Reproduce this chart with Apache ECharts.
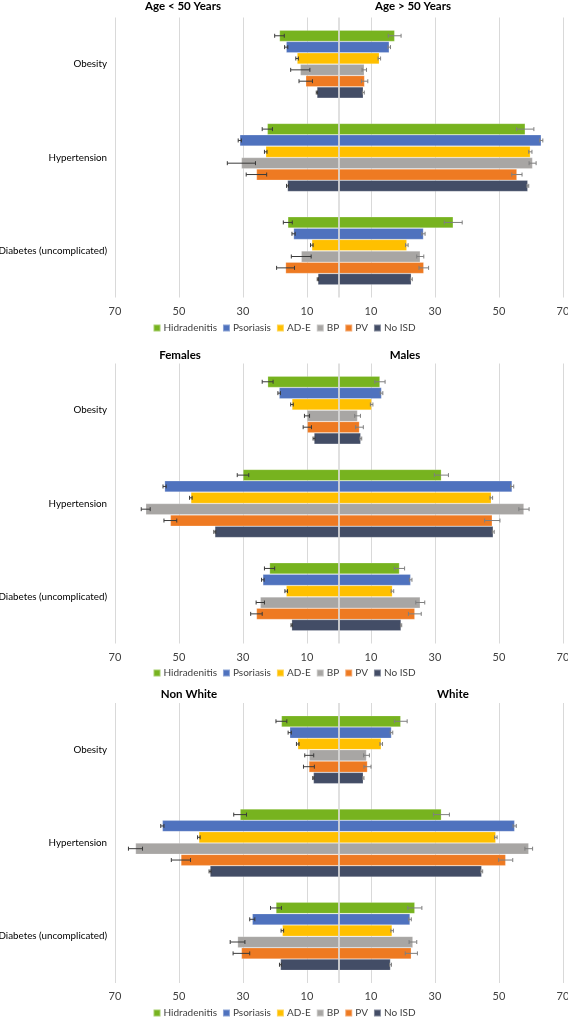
<!DOCTYPE html>
<html><head><meta charset="utf-8">
<script src="https://cdn.jsdelivr.net/npm/echarts@6/dist/echarts.min.js"></script>
<style>html,body{margin:0;padding:0;background:#fff}#c{width:568px;height:1018px}</style>
</head><body><div id="c"></div>
<script>
// ---------- DATA ----------
const categories = ['Obesity', 'Hypertension', 'Diabetes (uncomplicated)'];
const groups = ['Hidradenitis', 'Psoriasis', 'AD-E', 'BP', 'PV', 'No ISD'];
const panelTitles = [['Age < 50 Years', 'Age > 50 Years'], ['Females', 'Males'], ['Non White', 'White']];
const xTickLabels = [70, 50, 30, 10, 10, 30, 50, 70];

// rows = groups (Hidradenitis, Psoriasis, AD-E, BP, PV, No ISD); cols = categories
const ageUnder50 = [[18.6, 22.4, 16.0], [16.5, 31.0, 14.2], [13.1, 22.9, 8.5], [12.1, 30.5, 11.8], [10.4, 25.8, 16.7], [6.9, 16.1, 6.6]];
const ageUnder50Err = [[1.5, 1.6, 1.4], [0.5, 0.5, 0.5], [0.4, 0.4, 0.4], [3.0, 4.4, 3.1], [2.1, 3.2, 2.8], [0.2, 0.3, 0.2]];
const ageOver50 = [[17.4, 58.2, 35.7], [15.7, 63.2, 26.4], [12.6, 59.8, 21.2], [7.9, 60.5, 25.4], [8.0, 55.6, 26.5], [7.6, 59.0, 22.6]];
const ageOver50Err = [[2.0, 2.7, 2.8], [0.4, 0.5, 0.5], [0.4, 0.5, 0.4], [0.7, 1.1, 1.1], [1.0, 1.6, 1.5], [0.3, 0.3, 0.3]];

const females = [[22.3, 30.0, 21.7], [18.7, 54.5, 23.8], [14.7, 46.3, 16.5], [10.0, 60.4, 24.6], [9.9, 52.7, 25.8], [7.8, 38.8, 14.8]];
const femalesErr = [[1.7, 1.8, 1.6], [0.4, 0.5, 0.4], [0.4, 0.4, 0.4], [0.8, 1.4, 1.3], [1.3, 2.0, 1.8], [0.3, 0.3, 0.2]];
const males = [[12.8, 32.0, 18.9], [13.3, 54.1, 22.4], [10.2, 47.6, 16.7], [5.8, 57.8, 25.4], [6.4, 47.9, 23.7], [6.8, 48.2, 19.4]];
const malesErr = [[1.6, 2.2, 1.6], [0.4, 0.5, 0.4], [0.4, 0.4, 0.4], [0.9, 1.6, 1.4], [1.2, 2.4, 2.0], [0.3, 0.3, 0.2]];

const nonWhite = [[18.0, 30.9, 19.7], [15.4, 55.2, 27.1], [12.9, 43.8, 17.7], [9.3, 63.6, 31.7], [9.4, 49.4, 30.5], [8.0, 40.3, 18.3]];
const nonWhiteErr = [[1.7, 2.0, 1.7], [0.5, 0.5, 0.8], [0.4, 0.4, 0.4], [1.4, 2.2, 2.3], [1.7, 3.0, 2.6], [0.2, 0.3, 0.3]];
const white = [[19.3, 32.0, 23.7], [16.4, 54.9, 22.2], [13.2, 49.0, 16.6], [8.6, 59.3, 23.1], [8.9, 52.1, 22.6], [7.6, 44.6, 16.1]];
const whiteErr = [[2.0, 2.5, 2.2], [0.4, 0.5, 0.4], [0.4, 0.4, 0.4], [0.9, 1.2, 1.2], [1.1, 2.2, 1.9], [0.2, 0.3, 0.3]];

// ---------- STYLE / LAYOUT ----------
const colors = ['#77B31F', '#4F72BE', '#FFC000', '#A8A6A4', '#EE7A22', '#434D66'];
const FONT = 'Lato';
const panels = [
  { l: ageUnder50, le: ageUnder50Err, r: ageOver50, re: ageOver50Err, top: 17.5, titleY: 6, titleX: [183, 413], legendTop: 318 },
  { l: females, le: femalesErr, r: males, re: malesErr, top: 363.5, titleY: 355, titleX: [180, 405], legendTop: 663 },
  { l: nonWhite, le: nonWhiteErr, r: white, re: whiteErr, top: 703, titleY: 694, titleX: [189, 453], legendTop: 1003 }
];
const GRID_H = 280;
const CAT_GAP = 0.27;

const grid = [], xAxis = [], yAxis = [], series = [], legend = [], graphic = [];

panels.forEach((p, pi) => {
  grid.push({ left: 115, right: 5, top: p.top, height: GRID_H, containLabel: false, outerBoundsMode: 'none' });
  xAxis.push({
    type: 'value', gridIndex: pi, min: -70, max: 70, interval: 20,
    axisLine: { show: false }, axisTick: { show: false },
    splitLine: { show: true, lineStyle: { color: '#D9D9D9', width: 1 } },
    axisLabel: { color: '#404040', fontSize: 11, fontFamily: FONT, margin: 8,
      formatter: v => String(Math.abs(v)) }
  });
  yAxis.push({
    type: 'category', gridIndex: pi, data: categories, inverse: true,
    axisLine: { show: false }, axisTick: { show: false }, splitLine: { show: false },
    axisLabel: { color: '#000', fontSize: 9.8, fontFamily: FONT, margin: 8 }
  });
  groups.forEach((g, gi) => {
    const common = {
      type: 'bar', name: g, xAxisIndex: pi, yAxisIndex: pi, stack: 'p' + pi + 'g' + gi,
      barGap: '0%', barCategoryGap: (CAT_GAP * 100) + '%',
      itemStyle: { color: colors[gi], borderColor: 'rgba(255,255,255,0.35)', borderWidth: 0.6 },
      emphasis: { disabled: true }, animation: false
    };
    const leftS = Object.assign({}, common, { data: p.l[gi].map(v => -v) });
    if (gi === 0) {
      leftS.markLine = {
        silent: true, symbol: 'none', animation: false, z: 10,
        label: { show: false },
        lineStyle: { color: '#D6D6D6', width: 1.5, type: 'solid' },
        data: [{ xAxis: 0 }]
      };
    }
    series.push(leftS);
    series.push(Object.assign({}, common, { data: p.r[gi] }));
  });
  // error bars
  const errData = [];
  groups.forEach((g, gi) => {
    categories.forEach((c, ci) => {
      errData.push([-p.l[gi][ci], ci, gi, p.le[gi][ci], 0]);
      errData.push([p.r[gi][ci], ci, gi, p.re[gi][ci], 1]);
    });
  });
  series.push({
    type: 'custom', xAxisIndex: pi, yAxisIndex: pi, z: 8, animation: false, silent: true,
    encode: { x: 0, y: 1 },
    data: errData,
    renderItem: function (params, api) {
      const v = api.value(0), c = api.value(1), g = api.value(2), e = api.value(3), side = api.value(4);
      const ctr = api.coord([v, c]);
      const band = api.size([0, 1])[1];
      const gw = band * (1 - CAT_GAP);
      const bw = gw / groups.length;
      const y = ctr[1] - gw / 2 + (g + 0.5) * bw;
      const x1 = api.coord([v - e, c])[0];
      const x2 = api.coord([v + e, c])[0];
      const col = side === 0 ? '#3A3A3A' : '#7F7F7F';
      const st = { stroke: col, lineWidth: 1 };
      return {
        type: 'group', children: [
          { type: 'line', shape: { x1: x1, y1: y, x2: x2, y2: y }, style: st },
          { type: 'line', shape: { x1: x1, y1: y - 2, x2: x1, y2: y + 2 }, style: st },
          { type: 'line', shape: { x1: x2, y1: y - 2, x2: x2, y2: y + 2 }, style: st }
        ]
      };
    }
  });
  legend.push({
    data: groups, top: p.legendTop, left: 'center', icon: 'rect',
    itemWidth: 7, itemHeight: 7, itemGap: 5, selectedMode: false,
    textStyle: { color: '#404040', fontSize: 10, fontFamily: FONT, padding: [0, 0, 0, -2] }
  });
  panelTitles[pi].forEach((t, ti) => {
    graphic.push({
      type: 'text', x: p.titleX[ti], y: p.titleY, silent: true,
      style: { text: t, align: 'center', verticalAlign: 'middle', font: 'bold 11.5px ' + FONT, fill: '#000' }
    });
  });
});

const chart = echarts.init(document.getElementById('c'), null, { renderer: 'canvas' });
chart.setOption({
  animation: false,
  color: colors,
  grid, xAxis, yAxis, series, legend, graphic
});
</script>
</body></html>
